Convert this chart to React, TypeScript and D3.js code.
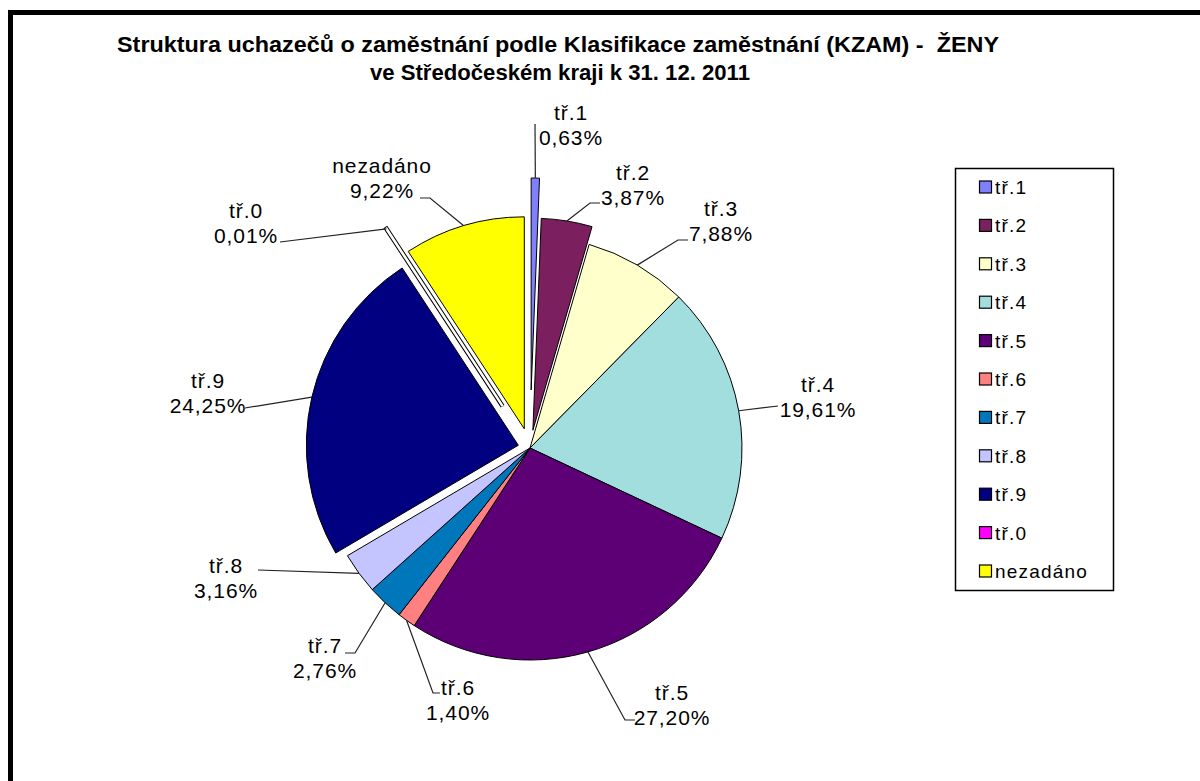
import { useRef, useEffect } from "react";
import * as d3 from "d3";

// chart values
const categories = ["tř.1", "tř.2", "tř.3", "tř.4", "tř.5", "tř.6", "tř.7", "tř.8", "tř.9", "tř.0", "nezadáno"];
const shares = [0.63, 3.87, 7.88, 19.61, 27.2, 1.4, 2.76, 3.16, 24.25, 0.01, 9.22];
const colors = ["#8080FF", "#7B1F5E", "#FFFFCC", "#A2DEDE", "#5E0075", "#FF8080", "#0077BB", "#C4C4FF", "#000080", "#FF00FF", "#FFFF00"];
const titleLines = [
  "Struktura uchazečů o zaměstnání podle Klasifikace zaměstnání (KZAM) -  ŽENY",
  "ve Středočeském kraji k 31. 12. 2011",
];

// layout (explode distance per slice, label placement relative to pie centre)
const explode = [58, 18, 0, 0, 0, 0, 0, 0, 12, 50, 20];
const labelLayout: { elbow: [number, number] | null; end: [number, number]; text: [number, number] }[] = [
  { elbow: null, end: [5, -324], text: [41, -328] },
  { elbow: [60, -245], end: [70, -245], text: [103, -268] },
  { elbow: [148, -208], end: [158, -208], text: [191, -232] },
  { elbow: null, end: [248, -42], text: [288, -56] },
  { elbow: [95, 272], end: [105, 272], text: [142, 252] },
  { elbow: [-97, 245], end: [-90, 245], text: [-72, 247] },
  { elbow: [-175, 205], end: [-185, 205], text: [-205, 205] },
  { elbow: null, end: [-272, 122], text: [-304, 125] },
  { elbow: null, end: [-285, -40], text: [-322, -60] },
  { elbow: null, end: [-250, -206], text: [-284, -230] },
  { elbow: [-100, -250], end: [-110, -250], text: [-148, -275] },
];

const WIDTH = 1200;
const HEIGHT = 781;

const App = () => {
  const svgRef = useRef<SVGSVGElement>(null);

  useEffect(() => {
    const svg = d3.select(svgRef.current);
    svg.selectAll("*").remove();

    const cx = 530;
    const cy = 448;
    const radius = 212;
    const font = "'Liberation Sans', Arial, sans-serif";

    svg.append("rect").attr("width", WIDTH).attr("height", HEIGHT).attr("fill", "#fff");

    // outer frame (cropped on right and bottom)
    svg
      .append("rect")
      .attr("x", 10.5)
      .attr("y", 12.5)
      .attr("width", 1300)
      .attr("height", 900)
      .attr("fill", "none")
      .attr("stroke", "#000")
      .attr("stroke-width", 5);

    // title
    const title = svg
      .append("text")
      .attr("text-anchor", "middle")
      .style("font-family", font)
      .style("font-weight", "bold")
      .style("font-size", "22px")
      .style("white-space", "pre")
      .attr("fill", "#000");
    title
      .append("tspan")
      .attr("x", 558)
      .attr("y", 52)
      .attr("textLength", 882)
      .attr("lengthAdjust", "spacingAndGlyphs")
      .text(titleLines[0]);
    title
      .append("tspan")
      .attr("x", 560)
      .attr("y", 80)
      .attr("textLength", 380)
      .attr("lengthAdjust", "spacingAndGlyphs")
      .text(titleLines[1]);

    const pie = d3
      .pie<number>()
      .sort(null)
      .value((d) => d);
    const arcs = pie(shares);

    const arc = d3
      .arc<d3.PieArcDatum<number>>()
      .innerRadius(0)
      .outerRadius(radius);

    const g = svg.append("g").attr("transform", `translate(${cx},${cy})`);

    const dir = (d: d3.PieArcDatum<number>) => {
      const a = (d.startAngle + d.endAngle) / 2;
      return [Math.sin(a), -Math.cos(a)];
    };
    const shift = (d: d3.PieArcDatum<number>, i: number) => {
      const [ux, uy] = dir(d);
      return `translate(${ux * explode[i]},${uy * explode[i]})`;
    };

    // slices
    g.selectAll(".slice")
      .data(arcs)
      .enter()
      .append("path")
      .attr("class", "slice")
      .attr("transform", shift)
      .attr("d", arc)
      .attr("fill", (d, i) => colors[i])
      .attr("stroke", "#000")
      .attr("stroke-width", 1)
      .attr("stroke-linejoin", "round");

    // hair-thin slices show up as a double outline
    g.selectAll(".thin")
      .data(arcs.filter((d) => d.endAngle - d.startAngle < 0.002))
      .enter()
      .append("path")
      .attr("class", "thin")
      .attr("transform", (d) => shift(d, d.index))
      .attr("d", arc)
      .attr("fill", "none")
      .attr("stroke", "#000")
      .attr("stroke-width", 4.5)
      .clone()
      .attr("stroke", "#fff")
      .attr("stroke-width", 2.5);

    // leader lines
    g.selectAll(".leader")
      .data(arcs)
      .enter()
      .append("path")
      .attr("class", "leader")
      .attr("d", (d, i) => {
        const [ux, uy] = dir(d);
        const r = radius + explode[i];
        const pts: [number, number][] = [[ux * r, uy * r]];
        const lay = labelLayout[i];
        if (lay.elbow) pts.push(lay.elbow);
        pts.push(lay.end);
        return d3.line()(pts);
      })
      .attr("fill", "none")
      .attr("stroke", "#222")
      .attr("stroke-width", 1.2);

    // labels
    g.selectAll(".label")
      .data(arcs)
      .enter()
      .append("text")
      .attr("class", "label")
      .attr("text-anchor", "middle")
      .style("font-family", font)
      .style("font-size", "21px")
      .style("letter-spacing", "0.9px")
      .attr("fill", "#000")
      .each(function (d, i) {
        const t = d3.select(this);
        const [tx, ty] = labelLayout[i].text;
        t.append("tspan").attr("x", tx).attr("y", ty).text(categories[i]);
        t.append("tspan")
          .attr("x", tx)
          .attr("y", ty + 25)
          .text(shares[i].toFixed(2).replace(".", ",") + "%");
      });

    // legend
    const legend = svg.append("g");
    legend
      .append("rect")
      .attr("x", 955.5)
      .attr("y", 168.5)
      .attr("width", 158)
      .attr("height", 422)
      .attr("fill", "#fff")
      .attr("stroke", "#000")
      .attr("stroke-width", 1.5);

    legend
      .selectAll(".item")
      .data(categories)
      .enter()
      .append("g")
      .attr("class", "item")
      .attr("transform", (d, i) => `translate(979,${187 + i * 38.4})`)
      .each(function (d, i) {
        const item = d3.select(this);
        item
          .append("rect")
          .attr("x", 0.5)
          .attr("y", -6)
          .attr("width", 12)
          .attr("height", 12)
          .attr("fill", colors[i])
          .attr("stroke", "#000")
          .attr("stroke-width", 1.2);
        item
          .append("text")
          .attr("x", 16)
          .attr("y", 7)
          .style("font-family", font)
          .style("font-size", "19px")
          .style("letter-spacing", "1.2px")
          .attr("fill", "#000")
          .text(d);
      });
  }, []);

  return (
    <svg
      ref={svgRef}
      width={WIDTH}
      height={HEIGHT}
      style={{ position: "absolute", left: 0, top: 0, display: "block" }}
    ></svg>
  );
};

export default App;
